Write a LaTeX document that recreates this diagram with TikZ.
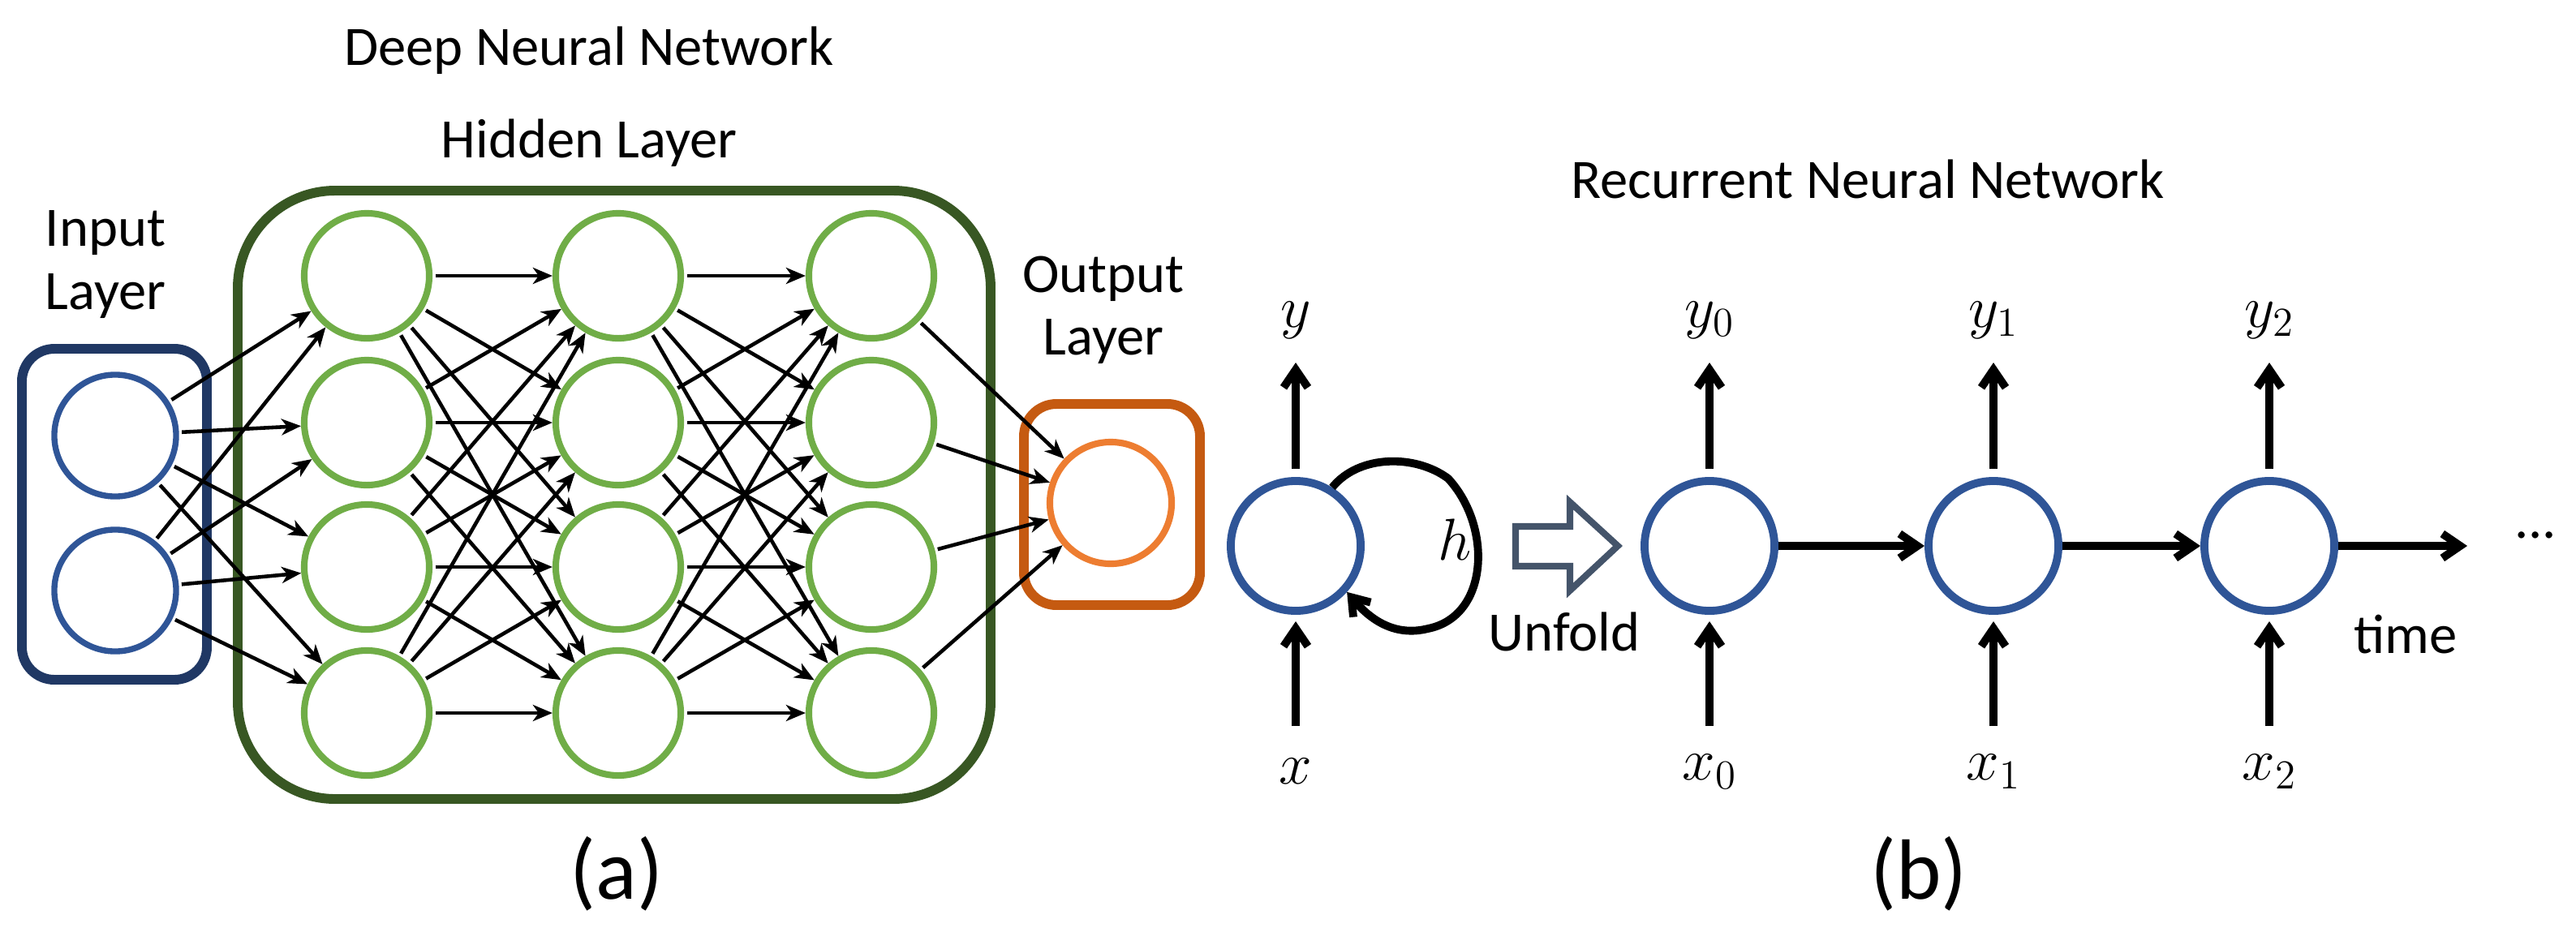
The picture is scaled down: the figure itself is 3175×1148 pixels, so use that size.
\documentclass[tikz,border=0pt]{standalone}
\usepackage{fontspec}
\setmainfont{Carlito}
\usetikzlibrary{arrows.meta}
\definecolor{cblue}{HTML}{2F5597}
\definecolor{cgreen}{HTML}{70AD47}
\definecolor{cdgreen}{HTML}{385723}
\definecolor{cnavy}{HTML}{203864}
\definecolor{corange}{HTML}{ED7D31}
\definecolor{cdorange}{HTML}{C55A11}
\definecolor{cslate}{HTML}{44546A}
\begin{document}
\begin{tikzpicture}[x=0.01cm,y=-0.01cm,
  lbl/.style={font=\fontsize{19.5}{22}\selectfont, align=center},
  neu/.style={circle, draw=cgreen, line width=2.3pt, minimum size=1.54cm, inner sep=0pt},
  inn/.style={circle, draw=cblue, line width=2.1pt, minimum size=1.5cm, inner sep=0pt},
  rnn/.style={circle, draw=cblue, line width=2.8pt, minimum size=1.6cm, inner sep=0pt},
  box/.style={draw, line width=3.4pt, rounded corners=0.4cm},
  dc/.style={-{Stealth[length=0.24cm,width=0.2cm,inset=0.07cm]}, line width=1.3pt, shorten <=1pt},
  rc/.style={-{Straight Barb[length=0.22cm,width=0.3cm]}, line width=2.8pt},
  ml/.style={font=\fontsize{21}{23}\selectfont}]
\useasboundingbox (0,0) rectangle (3175,1148);
% boxes
\draw[box, draw=cnavy] (27,430) rectangle (255,838);
\draw[box, draw=cdgreen, rounded corners=1.2cm] (293,235) rectangle (1221,985);
\draw[box, draw=cdorange] (1262,498) rectangle (1479,746);
% texts
\node[lbl] (tdnn) at (726,62) {Deep Neural Network};
\node[lbl] (thid) at (726,176) {Hidden Layer};
\node[lbl] (tin) at (130,326) {Input\\Layer};
\node[lbl] (tout) at (1360,382) {Output\\Layer};
\node[font=\fontsize{30}{32}\selectfont] (ta) at (760,1077) {(a)};
% input
\node[inn] (i1) at (142,537) {};
\node[inn] (i2) at (142,728) {};
% hidden
\foreach \c/\x in {1/452,2/762,3/1074}{
  \foreach \r/\y in {1/340,2/521,3/699,4/879}{
    \node[neu] (h\c\r) at (\x,\y) {};
  }
}
\node[circle, draw=corange, line width=2.3pt, minimum size=1.5cm, inner sep=0pt] (o) at (1369,620) {};
% connections
\foreach \a in {1,2}{\foreach \b in {1,2,3,4}{\draw[dc] (i\a) -- (h1\b);}}
\foreach \a in {1,2,3,4}{\foreach \b in {1,2,3,4}{\draw[dc] (h1\a) -- (h2\b); \draw[dc] (h2\a) -- (h3\b);}}
\foreach \a in {1,2,3,4}{\draw[dc] (h3\a) -- (o);}
% RNN
\node[lbl] (trnn) at (2302,221) {Recurrent Neural Network};
\node[font=\fontsize{30}{32}\selectfont] (tb) at (2365,1077) {(b)};
\node[rnn] (r) at (1597,673) {};
\node[ml] (ly) at (1597,395) {$y$};
\node[ml] (lx) at (1597,951) {$x$};
\coordinate (ryt) at (1597,447);
\coordinate (ryb) at (1597,578);
\coordinate (rxb) at (1597,895);
\coordinate (rxt) at (1597,766);
\draw[rc] (ryb) -- (ryt);
\draw[rc] (rxb) -- (rxt);
\draw[line width=2.8pt, -{Straight Barb[length=0.2cm,width=0.28cm]}] (r.58) .. controls (1675,560) and (1745,560) .. (1785,590) .. controls (1840,650) and (1835,760) .. (1760,775) .. controls (1720,785) and (1690,765) .. (r.-42);
\node[ml] (lh) at (1793,665) {$h$};
\draw[cslate, line width=2.3pt, fill=white] (1868,649) -- (1935,649) -- (1935,619) -- (1994,673) -- (1935,728) -- (1935,698) -- (1868,698) -- cycle;
\node[lbl] (tun) at (1928,779) {Unfold};
\foreach \i/\x in {0/2107,1/2457,2/2797}{
  \node[rnn] (u\i) at (\x,673) {};
  \node[ml] (uy\i) at (\x,395) {$y_{\i}$};
  \node[ml] (ux\i) at (\x,951) {$x_{\i}$};
  \coordinate (a\i) at (\x,447);
  \coordinate (b\i) at (\x,578);
  \coordinate (c\i) at (\x,895);
  \coordinate (d\i) at (\x,766);
  \draw[rc] (b\i) -- (a\i);
  \draw[rc] (c\i) -- (d\i);
}
\coordinate (e1) at (3041,673);
\draw[rc] (u0) -- (u1);
\draw[rc] (u1) -- (u2);
\draw[rc] (u2) -- (e1);
\node[lbl] (ttime) at (2965,782) {time};
\node[lbl] (tdots) at (3125,660) {...};
\end{tikzpicture}
\end{document}
